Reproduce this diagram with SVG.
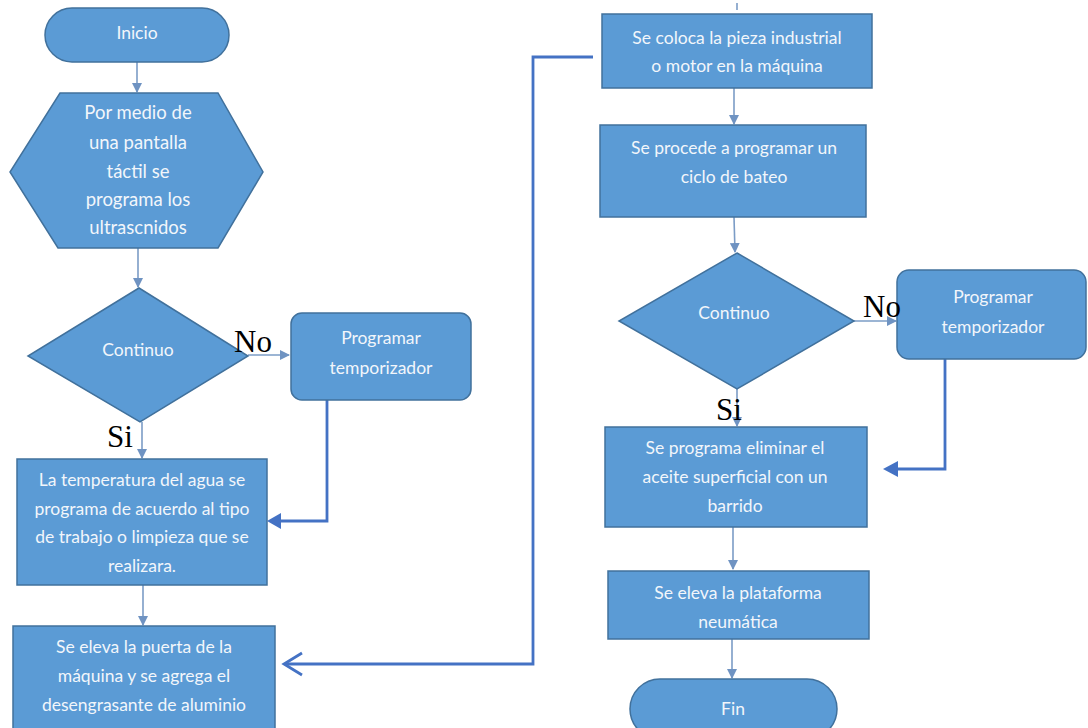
<svg xmlns="http://www.w3.org/2000/svg" width="1088" height="728" viewBox="0 0 1088 728">
<defs>
<style>
.n{fill:#5b9bd5;stroke:#41719c;stroke-width:1.5}
.t{font-family:Lato,"Liberation Sans",sans-serif;font-size:17.5px;fill:#f2f6fb;text-anchor:middle}
.h{font-size:18.5px}
.lb{font-family:"Liberation Serif",serif;font-size:31px;fill:#000}
.a{stroke:#7b9cc6;stroke-width:1.6;fill:none}
.c{stroke:#4472c4;stroke-width:2.8;fill:none}
</style>
<marker id="ah" markerWidth="10" markerHeight="10" refX="9" refY="5" orient="auto" markerUnits="userSpaceOnUse">
<path d="M0,0 L10,5 L0,10 Z" fill="#6f93c2"/>
</marker>
</defs>
<rect width="1088" height="728" fill="#fff"/>

<g id="connectors">
<line class="a" x1="137" y1="62" x2="137" y2="92" marker-end="url(#ah)"/>
<line class="a" x1="138" y1="248" x2="138" y2="287" marker-end="url(#ah)"/>
<line class="a" x1="248" y1="355" x2="289" y2="355" marker-end="url(#ah)"/>
<line class="a" x1="142" y1="422" x2="142" y2="458" marker-end="url(#ah)"/>
<line class="a" x1="143" y1="585" x2="143" y2="625" marker-end="url(#ah)"/>
<polyline class="c" points="327,400 327,521 279,521"/>
<path d="M267,521 L281,513 L281,529 Z" fill="#4472c4"/>
<polyline class="c" points="593,57 533,57 533,664 285,664"/>
<polyline class="c" points="302,653 284,664 302,675"/>
<line class="a" x1="737" y1="3" x2="737" y2="10"/>
<line class="a" x1="734" y1="88" x2="734" y2="124" marker-end="url(#ah)"/>
<line class="a" x1="734" y1="217" x2="735" y2="252" marker-end="url(#ah)"/>
<line class="a" x1="854" y1="321" x2="896" y2="321" marker-end="url(#ah)"/>
<line class="a" x1="737" y1="389" x2="737" y2="426" marker-end="url(#ah)"/>
<polyline class="c" points="945,359 945,469 896,469"/>
<path d="M883,469 L898,461 L898,477 Z" fill="#4472c4"/>
<line class="a" x1="733" y1="527" x2="733" y2="569" marker-end="url(#ah)"/>
<line class="a" x1="732" y1="639" x2="732" y2="678" marker-end="url(#ah)"/>
</g>

<g id="inicio">
<rect class="n" x="45" y="8" width="184" height="54" rx="27"/>
<text class="t" x="137" y="39">Inicio</text>
</g>

<g id="hex">
<polygon class="n" points="60,93 218,93 263,172 218,248 58,248 10,172"/>
<text class="t h" x="138" y="119">Por medio de</text>
<text class="t h" x="138" y="149">una pantalla</text>
<text class="t h" x="138" y="178">táctil se</text>
<text class="t h" x="138" y="206">programa los</text>
<text class="t h" x="138" y="234">ultrascnidos</text>
</g>

<g id="dec1">
<polygon class="n" points="139,288 248,356 140,422 28,356"/>
<text class="t" x="138" y="356">Continuo</text>
</g>

<g id="prog1">
<rect class="n" x="291" y="313" width="180" height="87" rx="11"/>
<text class="t" x="381" y="344">Programar</text>
<text class="t" x="381" y="374">temporizador</text>
</g>

<g id="temp">
<rect class="n" x="17" y="459" width="250" height="126"/>
<text class="t" x="142" y="486">La temperatura del agua se</text>
<text class="t" x="142" y="515">programa de acuerdo al tipo</text>
<text class="t" x="142" y="543">de trabajo o limpieza que se</text>
<text class="t" x="142" y="572">realizara.</text>
</g>

<g id="puerta">
<rect class="n" x="13" y="626" width="262" height="104"/>
<text class="t" x="144" y="653">Se eleva la puerta de la</text>
<text class="t" x="144" y="682">máquina y se agrega el</text>
<text class="t" x="144" y="711">desengrasante de aluminio</text>
</g>

<g id="coloca">
<rect class="n" x="602" y="14" width="270" height="74"/>
<text class="t" x="737" y="44">Se coloca la pieza industrial</text>
<text class="t" x="737" y="72">o motor en la máquina</text>
</g>

<g id="procede">
<rect class="n" x="600" y="125" width="266" height="92"/>
<text class="t" x="734" y="154">Se procede a programar un</text>
<text class="t" x="734" y="183">ciclo de bateo</text>
</g>

<g id="dec2">
<polygon class="n" points="737,253 854,321 737,389 619,321"/>
<text class="t" x="734" y="319">Continuo</text>
</g>

<g id="prog2">
<rect class="n" x="897" y="270" width="189" height="89" rx="12"/>
<text class="t" x="993" y="303">Programar</text>
<text class="t" x="993" y="333">temporizador</text>
</g>

<g id="elimina">
<rect class="n" x="605" y="427" width="262" height="100"/>
<text class="t" x="735" y="454">Se programa eliminar el</text>
<text class="t" x="735" y="483">aceite superficial con un</text>
<text class="t" x="735" y="512">barrido</text>
</g>

<g id="plataforma">
<rect class="n" x="608" y="571" width="261" height="68"/>
<text class="t" x="738" y="599">Se eleva la plataforma</text>
<text class="t" x="738" y="628">neumática</text>
</g>

<g id="fin">
<rect class="n" x="630" y="679" width="207" height="60" rx="30"/>
<text class="t" x="733" y="715">Fin</text>
</g>

<g id="labels">
<text class="lb" x="234" y="352">No</text>
<text class="lb" x="107" y="447">Si</text>
<text class="lb" x="863" y="317">No</text>
<text class="lb" x="716" y="420">Si</text>
</g>
</svg>
